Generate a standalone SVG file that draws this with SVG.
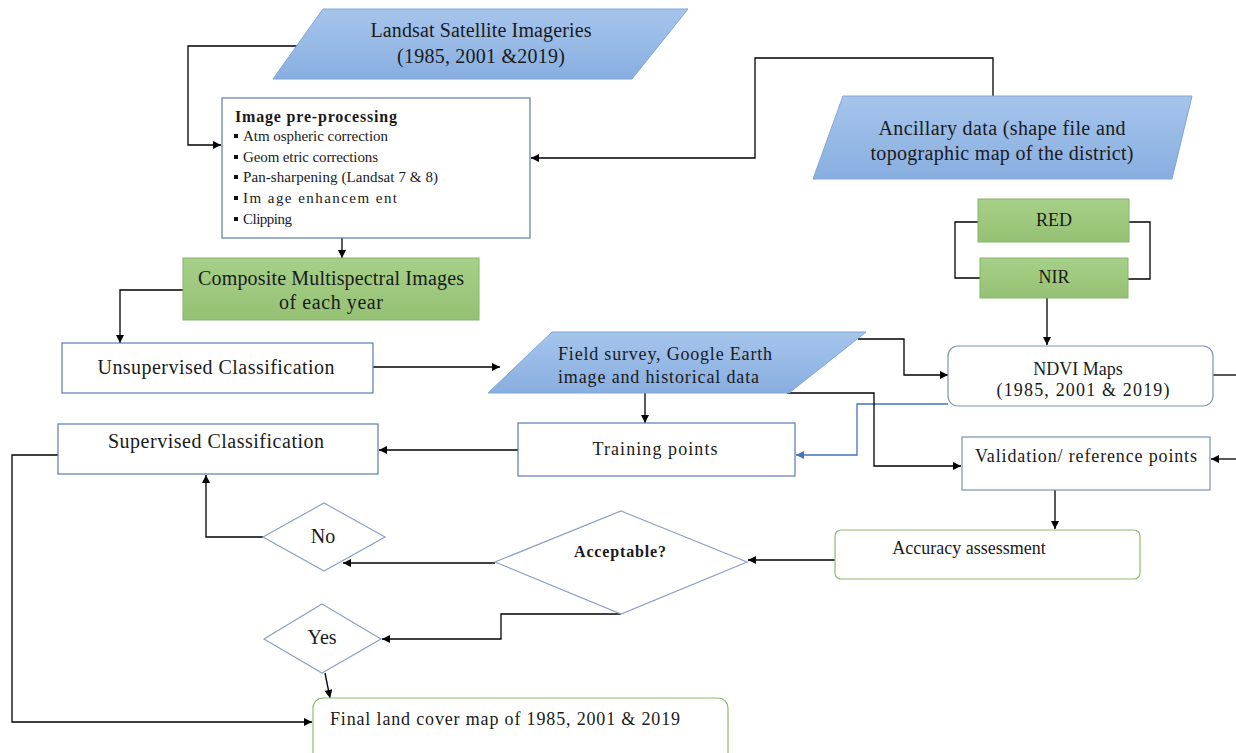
<svg xmlns="http://www.w3.org/2000/svg" width="1236" height="753" viewBox="0 0 1236 753">
<defs>
<linearGradient id="blueG" x1="0" y1="0" x2="0" y2="1"><stop offset="0" stop-color="#a6c5ec"/><stop offset="1" stop-color="#88aee0"/></linearGradient>
<linearGradient id="greenG" x1="0" y1="0" x2="0" y2="1"><stop offset="0" stop-color="#a6d088"/><stop offset="1" stop-color="#95c174"/></linearGradient>
<marker id="ah" viewBox="0 0 10 10" refX="10" refY="5" markerWidth="9" markerHeight="8" markerUnits="userSpaceOnUse" orient="auto"><path d="M0,0 L10,5 L0,10 z" fill="#000"/></marker>
<marker id="ahb" viewBox="0 0 10 10" refX="10" refY="5" markerWidth="9" markerHeight="8" markerUnits="userSpaceOnUse" orient="auto"><path d="M0,0 L10,5 L0,10 z" fill="#4472c4"/></marker>
<style>
.t{font-family:"Liberation Serif","Times New Roman",serif;fill:#1a1a1a;font-size:18px}
.l{font-size:20px}
.s{font-size:15px}
.b{font-weight:bold;font-size:16px}
.para{fill:url(#blueG);stroke:#7fa6d6;stroke-width:1}
.grn{fill:url(#greenG);stroke:#86b468;stroke-width:1}
.wbox{fill:#fff;stroke:#5b7bb0;stroke-width:1.2}
.gbox{fill:#fff;stroke:#8fbb70;stroke-width:1.2}
.nbox{fill:#fff;stroke:#7d93b5;stroke-width:1.2}
.dia{fill:#fff;stroke:#8e9fc6;stroke-width:1.2}
.c{fill:none;stroke:#000;stroke-width:1.3}
.cb{fill:none;stroke:#4472c4;stroke-width:1.3}
</style>
</defs>
<rect width="1236" height="753" fill="#fff"/>

<g id="connectors">
<polyline class="c" points="298,46 188,46 188,145 221,145" marker-end="url(#ah)"/>
<polyline class="c" points="993,97 993,58 755,58 755,158 531,158" marker-end="url(#ah)"/>
<polyline class="c" points="978,222 955,222 955,278 980,278"/>
<polyline class="c" points="1129,222 1150,222 1150,279 1128,279"/>
<polyline class="c" points="1047,298 1047,345" marker-end="url(#ah)"/>
<polyline class="c" points="342,238 342,258" marker-end="url(#ah)"/>
<polyline class="c" points="183,290 120,290 120,343" marker-end="url(#ah)"/>
<polyline class="c" points="373,367 500,367" marker-end="url(#ah)"/>
<polyline class="c" points="858,339 904,339 904,375 948,375" marker-end="url(#ah)"/>
<polyline class="c" points="1213,375 1236,375"/>
<polyline class="cb" points="948,404 857,404 857,455 796,455" marker-end="url(#ahb)"/>
<polyline class="c" points="645,393 645,423" marker-end="url(#ah)"/>
<polyline class="c" points="787,393 874,393 874,466 961,466" marker-end="url(#ah)"/>
<polyline class="c" points="518,450 379,450" marker-end="url(#ah)"/>
<polyline class="c" points="1236,459 1211,459" marker-end="url(#ah)"/>
<polyline class="c" points="1055,490 1055,529" marker-end="url(#ah)"/>
<polyline class="c" points="835,560 748,560" marker-end="url(#ah)"/>
<polyline class="c" points="495,563 343,563" marker-end="url(#ah)"/>
<polyline class="c" points="263,537 206,537 206,475" marker-end="url(#ah)"/>
<polyline class="c" points="621,614 501,614 501,639 382,639" marker-end="url(#ah)"/>
<polyline class="c" points="325,673 330,698" marker-end="url(#ah)"/>
<polyline class="c" points="58,455 12,455 12,722 312,722" marker-end="url(#ah)"/>
</g>

<g id="landsat">
<polygon class="para" points="323,9 688,9 632,79 273,79"/>
<text class="t l" x="481" y="37" text-anchor="middle" textLength="221" lengthAdjust="spacing">Landsat Satellite Imageries</text>
<text class="t l" x="481" y="63" text-anchor="middle" textLength="168" lengthAdjust="spacing">(1985, 2001 &amp;2019)</text>
</g>

<g id="preprocessing">
<rect class="wbox" x="222" y="98" width="308" height="140"/>
<text class="t b" x="235" y="122" textLength="162" lengthAdjust="spacing">Image pre-processing</text>
<rect x="234" y="134" width="4" height="4" fill="#111"/>
<rect x="234" y="155" width="4" height="4" fill="#111"/>
<rect x="234" y="175" width="4" height="4" fill="#111"/>
<rect x="234" y="196" width="4" height="4" fill="#111"/>
<rect x="234" y="217" width="4" height="4" fill="#111"/>
<text class="t s" x="243" y="141" textLength="145" lengthAdjust="spacing">Atm ospheric correction</text>
<text class="t s" x="243" y="162" textLength="135" lengthAdjust="spacing">Geom etric corrections</text>
<text class="t s" x="243" y="182" textLength="195" lengthAdjust="spacing">Pan-sharpening (Landsat 7 &amp; 8)</text>
<text class="t s" x="243" y="203" textLength="154" lengthAdjust="spacing">Im age enhancem ent</text>
<text class="t s" x="243" y="224" textLength="49" lengthAdjust="spacing">Clipping</text>
</g>

<g id="ancillary">
<polygon class="para" points="843,96 1192,96 1172,179 813,179"/>
<text class="t l" x="1002" y="135" text-anchor="middle" textLength="247" lengthAdjust="spacing">Ancillary data (shape file and</text>
<text class="t l" x="1002" y="160" text-anchor="middle" textLength="263" lengthAdjust="spacing">topographic map of the district)</text>
</g>

<g id="red">
<rect class="grn" x="978" y="199" width="151" height="43"/>
<text class="t" x="1054" y="226" text-anchor="middle">RED</text>
</g>

<g id="nir">
<rect class="grn" x="980" y="258" width="148" height="40"/>
<text class="t" x="1054" y="283" text-anchor="middle">NIR</text>
</g>

<g id="composite">
<rect class="grn" x="183" y="258" width="296" height="62"/>
<text class="t l" x="331" y="285" text-anchor="middle" textLength="266" lengthAdjust="spacing">Composite Multispectral Images</text>
<text class="t l" x="331" y="309" text-anchor="middle" textLength="104" lengthAdjust="spacing">of each year</text>
</g>

<g id="unsupervised">
<rect class="wbox" x="62" y="343" width="311" height="50"/>
<text class="t l" x="216" y="374" text-anchor="middle" textLength="237" lengthAdjust="spacing">Unsupervised Classification</text>
</g>

<g id="fieldsurvey">
<polygon class="para" points="552,332 866,332 789,393 488,393"/>
<text class="t" x="558" y="360" textLength="214" lengthAdjust="spacing">Field survey, Google Earth</text>
<text class="t" x="558" y="383" textLength="201" lengthAdjust="spacing">image and historical data</text>
</g>

<g id="ndvi">
<rect class="nbox" x="948" y="346" width="265" height="60" rx="10"/>
<text class="t" x="1078" y="375" text-anchor="middle">NDVI Maps</text>
<text class="t" x="1083" y="396" text-anchor="middle" textLength="173" lengthAdjust="spacing">(1985, 2001 &amp; 2019)</text>
</g>

<g id="supervised">
<rect class="wbox" x="58" y="424" width="320" height="50"/>
<text class="t l" x="216" y="448" text-anchor="middle" textLength="216" lengthAdjust="spacing">Supervised Classification</text>
</g>

<g id="training">
<rect class="wbox" x="518" y="423" width="277" height="53"/>
<text class="t" x="655" y="455" text-anchor="middle" textLength="125" lengthAdjust="spacing">Training points</text>
</g>

<g id="validation">
<rect class="nbox" x="962" y="437" width="248" height="53"/>
<text class="t" x="1086" y="462" text-anchor="middle" textLength="222" lengthAdjust="spacing">Validation/ reference points</text>
</g>

<g id="accuracy">
<rect class="gbox" x="835" y="530" width="305" height="49" rx="6"/>
<text class="t" x="969" y="554" text-anchor="middle">Accuracy assessment</text>
</g>

<g id="acceptable">
<polygon class="dia" points="621,511 747,562 621,614 495,562"/>
<text class="t b" x="620" y="557" text-anchor="middle" textLength="92" lengthAdjust="spacing">Acceptable?</text>
</g>

<g id="no">
<polygon class="dia" points="324,503 385,537 324,571 263,537"/>
<text class="t l" x="323" y="543" text-anchor="middle">No</text>
</g>

<g id="yes">
<polygon class="dia" points="322,604 381,639 322,673 264,639"/>
<text class="t l" x="322" y="644" text-anchor="middle">Yes</text>
</g>

<g id="final">
<rect class="gbox" x="313" y="698" width="415" height="70" rx="10"/>
<text class="t" x="330" y="725" textLength="350" lengthAdjust="spacing">Final land cover map of 1985, 2001 &amp; 2019</text>
</g>
</svg>
